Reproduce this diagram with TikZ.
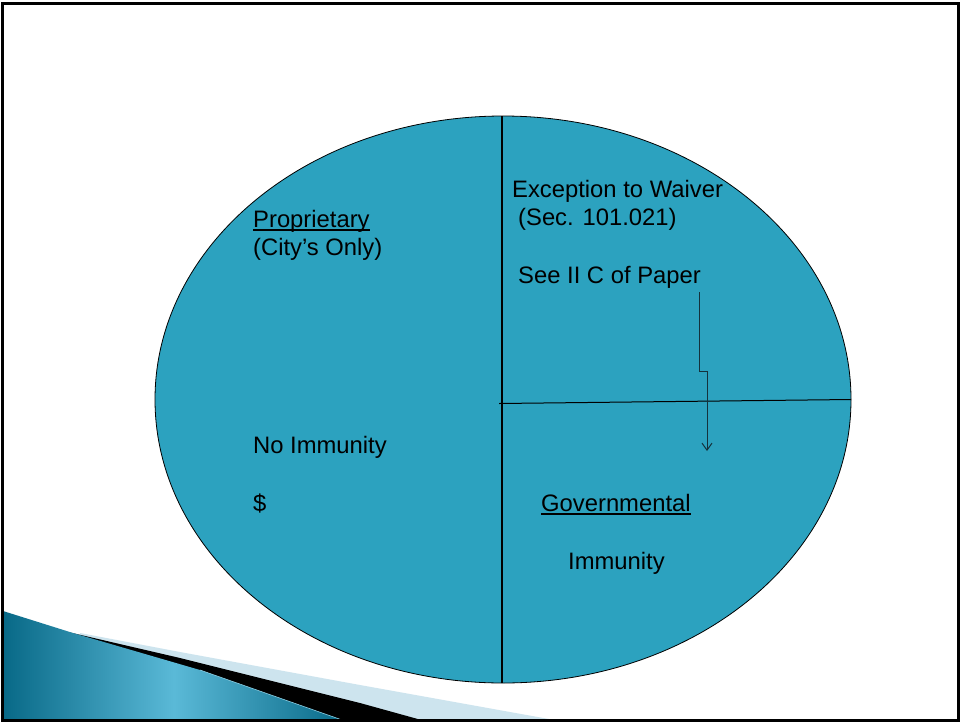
\documentclass[tikz,border=0pt]{standalone}
\usepackage{fontspec}
\setmainfont{Liberation Sans}
\usetikzlibrary{arrows.meta,shapes.geometric}
\definecolor{pie}{RGB}{44,162,191}
\definecolor{arrowc}{RGB}{20,50,60}
\definecolor{decodark}{RGB}{8,105,135}
\definecolor{decolight}{RGB}{90,185,215}
\definecolor{decopale}{RGB}{205,228,238}
\tikzset{
  lbl/.style={anchor=base west, inner sep=0pt, font=\fontsize{23.8}{28}\selectfont, text=black},
  uline/.style={line width=1.2pt, black},
  divider/.style={line width=1.6pt, black},
}
\begin{document}
\begin{tikzpicture}[x=1pt,y=-1pt]
\useasboundingbox (0,0) rectangle (961,723);
\fill[white] (0,0) rectangle (961,723);
% bottom-left decoration
\fill[decopale] (80,633) -- (180,652) -- (360,685) -- (560,721) -- (80,721) -- cycle;
\fill[black] (68,632) -- (180,658) -- (360,703) -- (425,721) -- (68,721) -- cycle;
\shade[left color=decodark, right color=decodark, middle color=decolight]
  (3,611) -- (73,633) -- (200,670) -- (345,721) -- (3,721) -- cycle;
\draw[decolight!70!white, line width=0.6pt] (200,670) -- (345,721);
% frame
\draw[line width=3pt, black] (2,3) rectangle (958,720);
% pie
\node[draw=black, line width=0.8pt, fill=pie, ellipse, minimum width=696pt, minimum height=567pt, inner sep=0pt] (pie) at (503,399.5) {};
\coordinate (vtop) at (502,116);
\coordinate (vbot) at (502,683);
\coordinate (hleft) at (499,403.5);
\coordinate (hright) at (851,399.5);
\draw[divider] (vtop) -- (vbot);
\draw[line width=1pt] (hleft) -- (hright);
% texts
\node[lbl] (prop) at (253,227) {Proprietary};
\draw[uline] ([yshift=-3pt]prop.base west) -- ([yshift=-3pt]prop.base east);
\node[lbl] (city) at (253,255) {(City’s Only)};
\node[lbl] (exc) at (512,197) {Exception to Waiver};
\node[lbl] (sec) at (518,225) {(Sec. 101.021)};
\node[lbl] (see) at (518,283) {See II C of Paper};
\node[lbl] (noimm) at (253,453) {No Immunity};
\node[lbl] (dollar) at (253,511) {\$};
\node[lbl] (gov) at (541,511) {Governmental};
\draw[uline] ([yshift=-3pt]gov.base west) -- ([yshift=-3pt]gov.base east);
\node[lbl] (imm) at (568,569) {Immunity};
% arrow
\coordinate (astart) at (699,292);
\coordinate (abend1) at (699,371);
\coordinate (abend2) at (707,371);
\coordinate (aend) at (707,451);
\draw[arrowc, line width=1pt, -{Straight Barb[length=7pt,width=10pt]}] (astart) -- (abend1) -- (abend2) -- (aend);
\end{tikzpicture}
\end{document}
